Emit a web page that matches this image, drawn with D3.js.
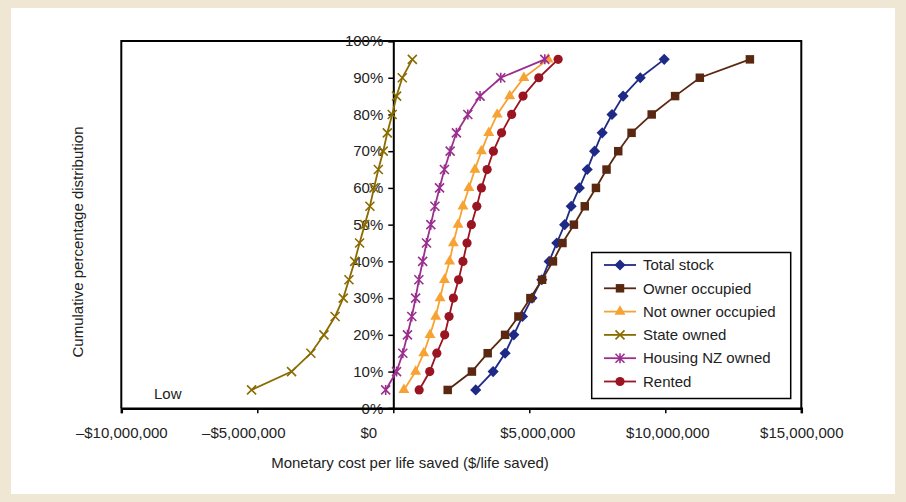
<!DOCTYPE html>
<html>
<head>
<meta charset="utf-8">
<script src="https://cdn.jsdelivr.net/npm/d3@7"></script>
<style>
  html, body { margin: 0; padding: 0; background: #efe6d3; }
  svg { display: block; }
  text { font-family: "Liberation Sans", Arial, sans-serif; fill: #222; }
</style>
</head>
<body>
<svg id="chart" width="906" height="502"></svg>
<script>
// ---- data ----
const percentiles = [0.05,0.10,0.15,0.20,0.25,0.30,0.35,0.40,0.45,0.50,0.55,0.60,0.65,0.70,0.75,0.80,0.85,0.90,0.95];
const seriesNames = ["Total stock","Owner occupied","Not owner occupied","State owned","Housing NZ owned","Rented"];
// values in $ millions per life saved
const totalStock      = [3.03,3.67,4.11,4.43,4.75,5.10,5.46,5.73,6.01,6.30,6.54,6.84,7.13,7.40,7.68,8.04,8.45,9.08,9.96];
const ownerOccupied   = [2.00,2.89,3.47,4.11,4.60,5.04,5.47,5.87,6.22,6.64,7.04,7.45,7.84,8.27,8.76,9.50,10.36,11.27,13.11];
const notOwnerOcc     = [0.39,0.82,1.12,1.35,1.56,1.72,1.88,2.07,2.21,2.38,2.56,2.78,3.00,3.24,3.51,3.82,4.28,4.80,5.69];
const stateOwned      = [-5.21,-3.74,-3.03,-2.55,-2.14,-1.84,-1.63,-1.42,-1.24,-1.05,-0.86,-0.71,-0.55,-0.37,-0.22,-0.04,0.12,0.33,0.70];
const housingNZ       = [-0.28,0.12,0.35,0.52,0.68,0.82,0.94,1.08,1.22,1.38,1.53,1.70,1.88,2.09,2.32,2.74,3.19,3.95,5.57];
const rented          = [0.95,1.34,1.60,1.89,2.05,2.21,2.40,2.56,2.71,2.87,3.07,3.24,3.45,3.68,3.98,4.35,4.77,5.35,6.06];
const xTicks = [-10e6,-5e6,0,5e6,10e6,15e6];
const yTicks = [0,0.1,0.2,0.3,0.4,0.5,0.6,0.7,0.8,0.9,1.0];
const xTitle = "Monetary cost per life saved ($/life saved)";
const yTitle = "Cumulative percentage distribution";
const noteLow = "Low";

// ---- styles ----
const colors  = ["#1f2a87","#5a2810","#f7a334","#8a6b00","#9a2f8f","#9a1421"];
const markers = ["diamond","square","triangle","x","star","circle"];
const seriesValues = [totalStock, ownerOccupied, notOwnerOcc, stateOwned, housingNZ, rented];

const svg = d3.select("#chart");
svg.append("rect").attr("x",11).attr("y",8).attr("width",884).attr("height",486).attr("fill","#fff");

const x = d3.scaleLinear().domain([-10e6, 15e6]).range([121.3, 801.3]);
const y = d3.scaleLinear().domain([0, 1]).range([408.3, 41]);

// plot border
svg.append("path")
  .attr("d", `M${x(-10e6)},${y(0)}V${y(1)}H${x(15e6)}V${y(0)}`)
  .attr("fill","none").attr("stroke","#000").attr("stroke-width",2);

// y axis labels
const fmtPct = d3.format(".0%");
svg.append("g").selectAll("text").data(yTicks).join("text")
  .attr("x", x(0) - 10).attr("y", d => y(d)).attr("dy","0.35em")
  .attr("text-anchor","end").style("font-size","15px").text(d => fmtPct(d));

// y axis
const yAxis = d3.axisLeft(y).tickValues(yTicks).tickSize(5).tickFormat("");
const gy = svg.append("g").attr("transform",`translate(${x(0)},0)`).call(yAxis);
gy.select(".domain").attr("stroke","#000").attr("stroke-width",2);
gy.selectAll(".tick line").attr("stroke","#000").attr("stroke-width",1.5);

// x axis
const fmtMoney = d3.format(",");
const moneyLabel = v => (v < 0 ? "\u2013$" : "$") + fmtMoney(Math.abs(v));
const xLabelShift = {"-10000000": 0, "-5000000": -14, "0": -25, "5000000": 8, "10000000": 2, "15000000": 0};
const xAxis = d3.axisBottom(x).tickValues(xTicks).tickSize(5).tickFormat(moneyLabel).tickPadding(14);
const gx = svg.append("g").attr("transform",`translate(0,${y(0)})`).call(xAxis);
gx.select(".domain").attr("stroke","#000").attr("stroke-width",2.5);
gx.selectAll(".tick line").attr("stroke","#000").attr("stroke-width",1.5);
gx.selectAll(".tick text").style("font-size","15px")
  .style("font-family",'"Liberation Sans", Arial, sans-serif').attr("fill","#222")
  .attr("dx", d => xLabelShift[String(d)] || 0);

// titles
svg.append("text").attr("x", 410).attr("y", 468).attr("text-anchor","middle")
  .style("font-size","15px").text(xTitle);
svg.append("text").attr("transform","translate(83,242) rotate(-90)").attr("text-anchor","middle")
  .style("font-size","15px").text(yTitle);
svg.append("text").attr("x", 154).attr("y", 399).style("font-size","15px").text(noteLow);

// marker drawing
function drawMarker(g, type, color) {
  if (type === "diamond") {
    g.append("path").attr("d", d3.symbol(d3.symbolSquare, 62)()).attr("transform","rotate(45)").attr("fill", color);
  } else if (type === "square") {
    g.append("path").attr("d", d3.symbol(d3.symbolSquare, 72)()).attr("fill", color);
  } else if (type === "triangle") {
    g.append("path").attr("d", d3.symbol(d3.symbolTriangle, 52)()).attr("fill", color);
  } else if (type === "circle") {
    g.append("circle").attr("r", 4.6).attr("fill", color);
  } else if (type === "x") {
    g.append("path").attr("d","M-4.5,-4.5L4.5,4.5M-4.5,4.5L4.5,-4.5").attr("stroke", color).attr("stroke-width",1.6).attr("fill","none");
  } else if (type === "star") {
    g.append("path").attr("d","M-4.5,-4.5L4.5,4.5M-4.5,4.5L4.5,-4.5M0,-5L0,5").attr("stroke", color).attr("stroke-width",1.6).attr("fill","none");
  }
}

const line = d3.line().x(d => x(d.v * 1e6)).y(d => y(d.p));

seriesNames.forEach((name, i) => {
  const pts = seriesValues[i].map((v, k) => ({v, p: percentiles[k]}));
  const g = svg.append("g");
  g.append("path").datum(pts).attr("d", line).attr("fill","none")
    .attr("stroke", colors[i]).attr("stroke-width", 1.8);
  g.selectAll("g.m").data(pts).join("g").attr("class","m")
    .attr("transform", d => `translate(${x(d.v * 1e6)},${y(d.p)})`)
    .each(function() { drawMarker(d3.select(this), markers[i], colors[i]); });
});

// legend
const lg = svg.append("g");
lg.append("rect").attr("x",591.7).attr("y",252.5).attr("width",199).attr("height",146)
  .attr("fill","#fff").attr("stroke","#000").attr("stroke-width",1.5);
seriesNames.forEach((name, i) => {
  const ly = 265 + i * 23.3;
  lg.append("line").attr("x1",604).attr("x2",636).attr("y1",ly).attr("y2",ly)
    .attr("stroke",colors[i]).attr("stroke-width",1.8);
  const m = lg.append("g").attr("transform",`translate(620,${ly})`);
  drawMarker(m, markers[i], colors[i]);
  lg.append("text").attr("x",643).attr("y",ly).attr("dy","0.35em").style("font-size","15px").text(name);
});
</script>
</body>
</html>
